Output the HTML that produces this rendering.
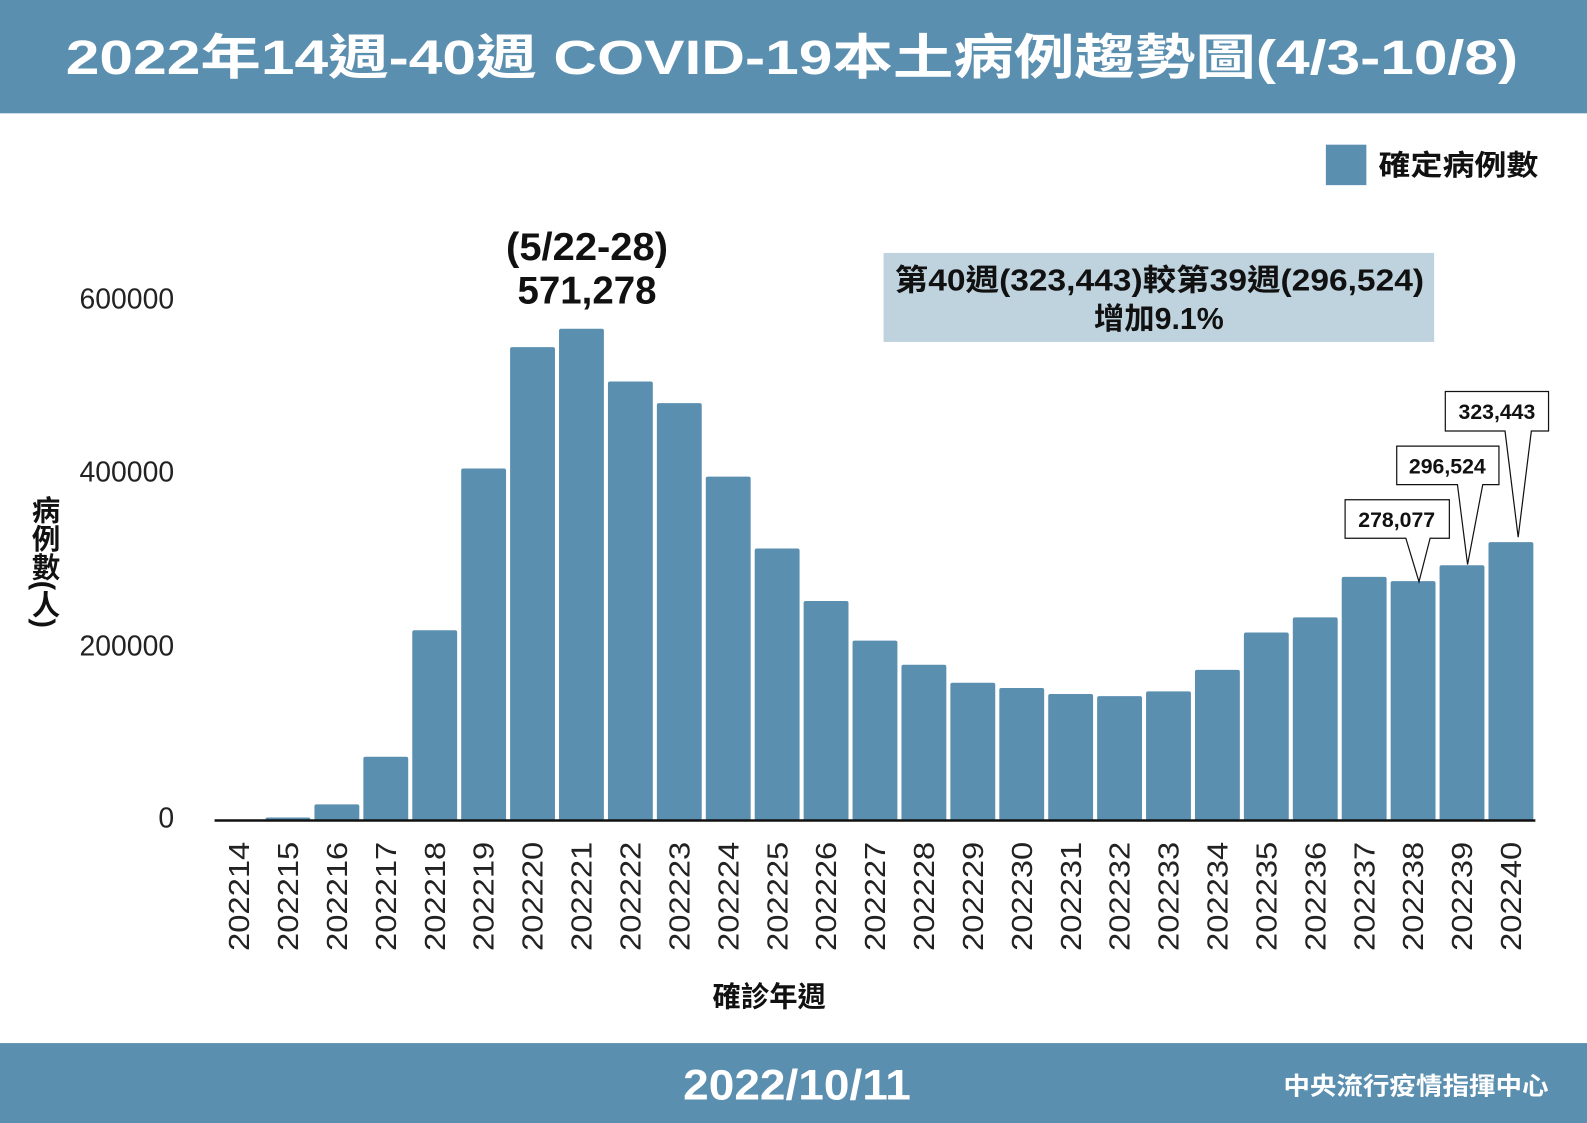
<!DOCTYPE html>
<html><head><meta charset="utf-8"><style>
html,body{margin:0;padding:0;background:#fff}
svg{display:block}
text{font-family:"Liberation Sans","Noto Sans CJK TC",sans-serif}
</style></head><body>
<svg width="1587" height="1123" viewBox="0 0 1568 1110" preserveAspectRatio="none" xmlns="http://www.w3.org/2000/svg">
<rect x="0" y="0" width="1568" height="112" fill="#5b8fb0"/>
<text x="65" y="73" font-size="48" font-weight="bold" fill="#fff" textLength="1435" lengthAdjust="spacingAndGlyphs">2022年14週-40週 COVID-19本土病例趨勢圖(4/3-10/8)</text>
<rect x="0" y="1031" width="1568" height="79" fill="#5b8fb0"/>
<text x="675" y="1087" font-size="42" font-weight="bold" fill="#fff" textLength="225" lengthAdjust="spacingAndGlyphs">2022/10/11</text>
<text x="1268" y="1082" font-size="24" font-weight="bold" fill="#fff" textLength="262" lengthAdjust="spacingAndGlyphs">中央流行疫情指揮中心</text>
<rect x="1310" y="143" width="40" height="40" fill="#5b8fb0"/>
<text x="1362" y="173" font-size="28" font-weight="bold" fill="#111" textLength="158" lengthAdjust="spacingAndGlyphs">確定病例數</text>
<g font-size="28" fill="#222" text-anchor="end">
<text x="172" y="305">600000</text>
<text x="172" y="476">400000</text>
<text x="172" y="648">200000</text>
<text x="172" y="818">0</text>
</g>
<text x="43" y="490" font-size="28" font-weight="bold" fill="#111" style="writing-mode:tb">病例數(人)</text>
<g id="bars" fill="#5b8fb0"></g>
<line x1="212" y1="811" x2="1517" y2="811" stroke="#111" stroke-width="2.5"/>
<g id="xl" font-size="28" fill="#222"></g>
<text x="760" y="995" text-anchor="middle" font-size="28" font-weight="bold" fill="#111">確診年週</text>
<text x="500" y="257" font-size="38" font-weight="bold" fill="#111" textLength="160" lengthAdjust="spacingAndGlyphs">(5/22-28)</text>
<text x="580" y="300" text-anchor="middle" font-size="38" font-weight="bold" fill="#111">571,278</text>
<rect x="873" y="250" width="544" height="88" fill="#bfd3df"/>
<text x="884" y="287" font-size="30" font-weight="bold" fill="#111" textLength="523" lengthAdjust="spacingAndGlyphs">第40週(323,443)較第39週(296,524)</text>
<text x="1145" y="325" text-anchor="middle" font-size="30" font-weight="bold" fill="#111">增加9.1%</text>
<g fill="#fff" stroke="#111" stroke-width="1.2">
<polygon points="1329,494 1432,494 1432,532 1413,532 1402,575 1389,532 1329,532"/>
<polygon points="1380,441 1481,441 1481,479 1465,479 1450,558 1440,479 1380,479"/>
<polygon points="1428,387 1530,387 1530,426 1513,426 1500,531 1487,426 1428,426"/>
</g>
<g font-size="21" font-weight="bold" fill="#111" text-anchor="middle">
<text x="1380" y="521">278,077</text>
<text x="1430" y="468">296,524</text>
<text x="1479" y="414">323,443</text>
</g>
</svg>
<script>
var v=[300,3500,18800,74000,221000,409000,550000,571278,510000,485000,399500,316000,255000,209000,181000,160000,154000,147000,144500,150000,175000,218500,236000,283000,278077,296524,323443];
var ns="http://www.w3.org/2000/svg",b=document.getElementById('bars'),xl=document.getElementById('xl');
var p=(1517-212)/27,s=486/571278;
v.forEach(function(d,i){
 var x=212+i*p+2,h=d*s;
 var r=document.createElementNS(ns,'rect');
 r.setAttribute('x',x);r.setAttribute('y',811-h);r.setAttribute('width',p-4);r.setAttribute('height',h);r.setAttribute('rx',2);
 b.appendChild(r);
 var cx=212+i*p+p/2+10;
 var t=document.createElementNS(ns,'text');
 t.setAttribute('transform','translate('+cx+',940) rotate(-90)');
 t.setAttribute('textLength','108');
 t.setAttribute('lengthAdjust','spacingAndGlyphs');
 t.textContent='2022'+(14+i);
 xl.appendChild(t);
});
</script>
</body></html>
